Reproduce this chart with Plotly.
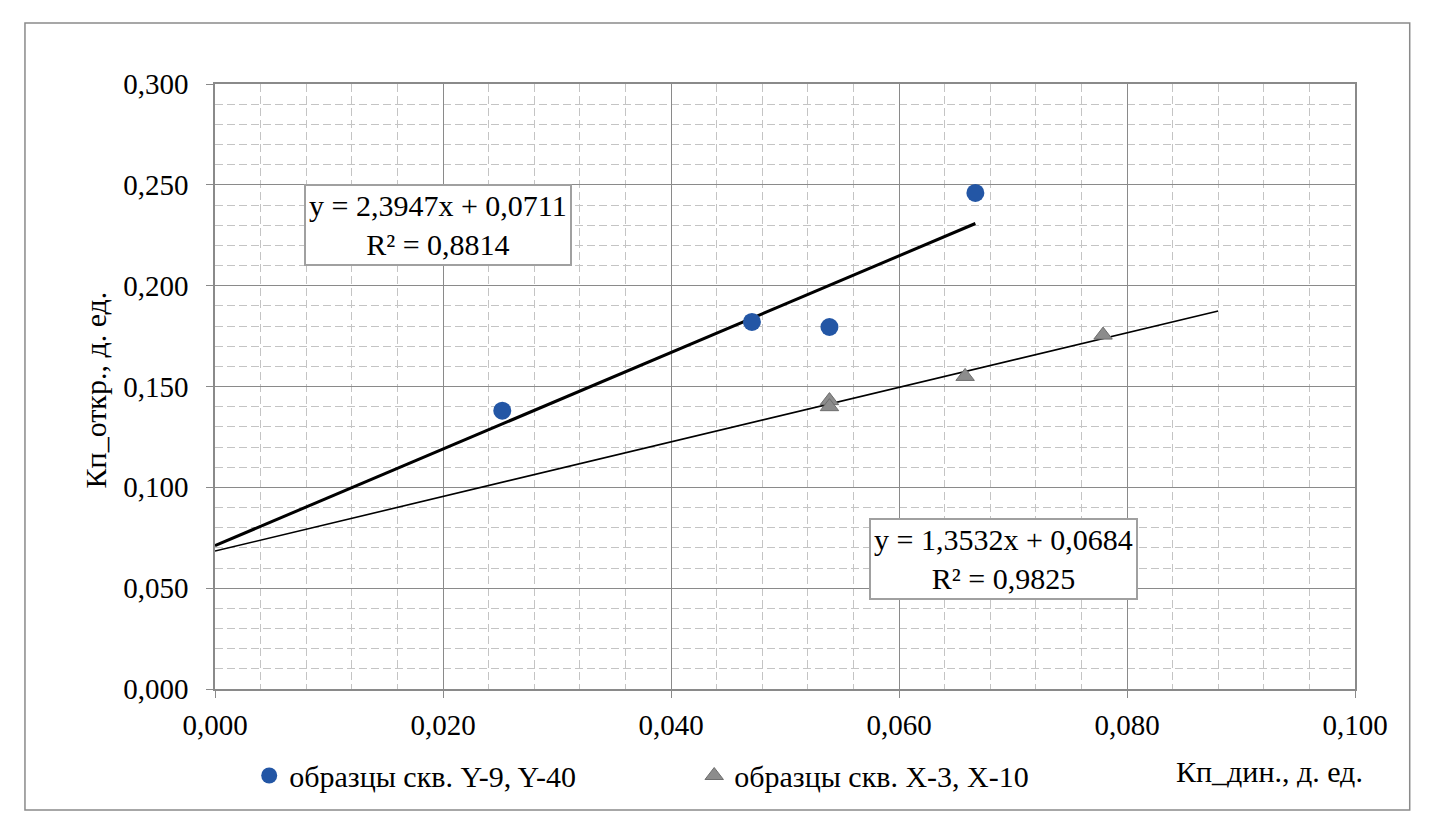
import numpy as np
import plotly.graph_objects as go

# series "образцы скв. Y-9, Y-40"
y_wells_x = [0.0252, 0.0471, 0.0539, 0.0667]
y_wells_y = [0.138, 0.182, 0.1795, 0.246]

# series "образцы скв. X-3, X-10"
x_wells_x = [0.0539, 0.0539, 0.0658, 0.0779]
x_wells_y = [0.143, 0.140, 0.155, 0.1755]

# linear trendlines (coefficients shown on the chart)
trend_y = {"slope": 2.3947, "intercept": 0.0711, "x_end": 0.0667, "r2": 0.8814}
trend_x = {"slope": 1.3532, "intercept": 0.0684, "x_end": 0.088, "r2": 0.9825}

FONT = "Liberation Serif, Times New Roman, serif"
AXIS_GREY = "#8a8a8a"
MINOR_GREY = "#c4c4c4"


def fmt(v):
    return f"{v:.4f}".replace(".", ",")


fig = go.Figure()

for tr, width in ((trend_y, 3), (trend_x, 1.6)):
    xs = np.array([0.0, tr["x_end"]])
    fig.add_trace(
        go.Scatter(
            x=xs,
            y=tr["slope"] * xs + tr["intercept"],
            mode="lines",
            line=dict(color="black", width=width),
            showlegend=False,
            hoverinfo="skip",
        )
    )

fig.add_trace(
    go.Scatter(
        x=y_wells_x,
        y=y_wells_y,
        mode="markers",
        name="образцы скв. Y-9, Y-40",
        marker=dict(symbol="circle", size=18, color="#2356a5"),
    )
)
fig.add_trace(
    go.Scatter(
        x=x_wells_x,
        y=x_wells_y,
        mode="markers",
        name="образцы скв. X-3, X-10",
        marker=dict(symbol="triangle-up", size=16, color="#8c8c8c",
                    line=dict(color="#6e6e6e", width=1)),
    )
)

# equation boxes
for tr, ax, ay in ((trend_y, 0.0196, 0.2300), (trend_x, 0.0692, 0.0645)):
    fig.add_annotation(
        x=ax, y=ay, xref="x", yref="y", xanchor="center", yanchor="middle",
        text=f"y = {fmt(tr['slope'])}x + {fmt(tr['intercept'])}<br>R² = {fmt(tr['r2'])}",
        showarrow=False,
        font=dict(family=FONT, size=30, color="black"),
        align="center",
        bgcolor="white",
        bordercolor="#a0a0a0",
        borderwidth=2,
        borderpad=3,
    )

fig.add_annotation(
    x=-0.105, y=0.494, xref="paper", yref="paper", xanchor="center", yanchor="middle",
    text="Кп_откр., д. ед.", textangle=-90, showarrow=False,
    font=dict(family=FONT, size=30, color="black"),
)
fig.add_annotation(
    x=0.925, y=-0.137, xref="paper", yref="paper", xanchor="center", yanchor="middle",
    text="Кп_дин., д. ед.", showarrow=False,
    font=dict(family=FONT, size=30, color="black"),
)

# outer chart frame
fig.add_shape(
    type="rect", xref="paper", yref="paper",
    x0=-0.1667, x1=1.048, y0=-0.2, y1=1.1008,
    line=dict(color=AXIS_GREY, width=1.5),
)

axis_common = dict(
    showgrid=True, gridcolor=AXIS_GREY, gridwidth=1,
    showline=True, mirror=True, linecolor=AXIS_GREY, linewidth=1.5,
    ticks="outside", ticklen=7, tickcolor=AXIS_GREY,
    zeroline=False, tickformat=".3f",
    tickfont=dict(family=FONT, size=29, color="black"),
)
fig.update_xaxes(
    range=[0, 0.1], dtick=0.02, ticklabelstandoff=2,
    minor=dict(dtick=0.004, showgrid=True, gridcolor=MINOR_GREY, griddash="8px,4px", gridwidth=1),
    **axis_common,
)
fig.update_yaxes(
    range=[0, 0.3], dtick=0.05, ticklabelstandoff=12,
    minor=dict(dtick=0.01, showgrid=True, gridcolor=MINOR_GREY, griddash="8px,4px", gridwidth=1),
    **axis_common,
)

# page body adds an 8px margin, so the figure is drawn 16px smaller
fig.update_layout(
    width=1418,
    height=810,
    margin=dict(l=207, r=71, t=76, b=129),
    paper_bgcolor="white",
    plot_bgcolor="white",
    separators=", ",
    font=dict(family=FONT, size=30, color="black"),
    legend=dict(
        orientation="h",
        x=0.03, y=-0.143, xanchor="left", yanchor="middle",
        font=dict(family=FONT, size=30, color="black"),
        itemwidth=30,
        entrywidth=400,
        bgcolor="rgba(0,0,0,0)",
    ),
)

fig.write_html("out.html")
